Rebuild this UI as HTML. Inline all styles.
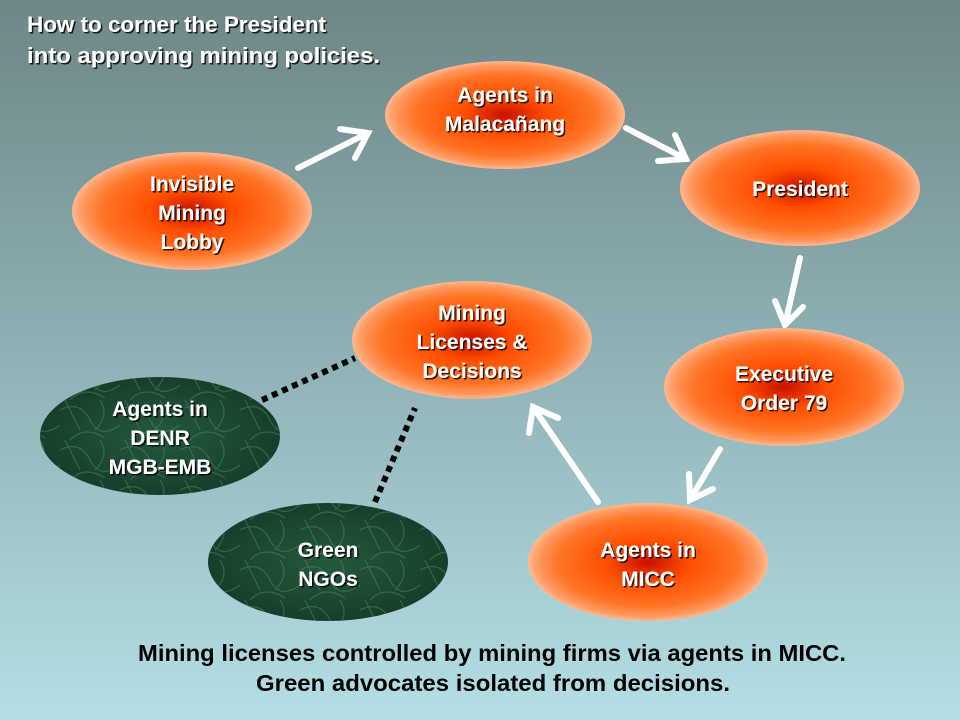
<!DOCTYPE html>
<html><head><meta charset="utf-8"><style>
html,body{margin:0;padding:0;width:960px;height:720px;overflow:hidden}
svg{display:block}
text{font-family:"Liberation Sans",Arial,sans-serif;font-weight:bold}
.w{fill:#fff;font-size:21px;text-anchor:middle}
</style></head><body>
<svg width="960" height="720" viewBox="0 0 960 720" xmlns="http://www.w3.org/2000/svg">
<defs>
<linearGradient id="bg" x1="0" y1="0" x2="0" y2="1">
<stop offset="0" stop-color="#6e8686"/>
<stop offset="0.5" stop-color="#8fb2b6"/>
<stop offset="1" stop-color="#b4dfe4"/>
</linearGradient>
<radialGradient id="og" cx="0.5" cy="0.5" r="0.5">
<stop offset="0" stop-color="#c81000"/>
<stop offset="0.35" stop-color="#ff4e00"/>
<stop offset="0.75" stop-color="#ff7426"/>
<stop offset="0.92" stop-color="#ff9a60"/>
<stop offset="1" stop-color="#ffb890"/>
</radialGradient>
<radialGradient id="gg" cx="0.5" cy="0.5" r="0.5">
<stop offset="0" stop-color="#235a3c"/>
<stop offset="1" stop-color="#173e2a"/>
</radialGradient>
<pattern id="marble" width="60" height="40" patternUnits="userSpaceOnUse">
<path d="M0 10 Q20 0 30 20 T60 25 M10 40 Q25 25 45 38 M5 0 L20 30 M40 0 Q50 15 35 30" stroke="#4e8a66" stroke-width="1.2" fill="none" opacity="0.5"/>
</pattern>
<filter id="sh"><feDropShadow dx="1.5" dy="1.5" stdDeviation="0" flood-color="#000" flood-opacity="0.8"/></filter>
</defs>
<rect width="960" height="720" fill="url(#bg)"/>

<g filter="url(#sh)">
<text x="27" y="32" fill="#fff" font-size="22" textLength="299" lengthAdjust="spacingAndGlyphs">How to corner the President</text>
<text x="27" y="63" fill="#fff" font-size="22" textLength="353" lengthAdjust="spacingAndGlyphs">into approving mining policies.</text>
</g>

<g stroke="#000" stroke-width="6" stroke-dasharray="6 5" fill="none">
<line x1="262" y1="400" x2="355" y2="358"/>
<line x1="375" y1="502" x2="415" y2="408"/>
</g>

<g stroke="#fff" stroke-width="6" fill="none" stroke-linecap="round" stroke-linejoin="miter">
<line x1="298" y1="168" x2="368" y2="133"/><polyline points="340,129 368,133 355,158"/>
<line x1="626" y1="128" x2="686" y2="159"/><polyline points="675,135 686,159 658,161"/>
<line x1="800" y1="258" x2="785" y2="325"/><polyline points="775,301 785,325 803,307"/>
<line x1="720" y1="449" x2="690" y2="500"/><polyline points="689,474 690,500 713,489"/>
<line x1="598" y1="502" x2="533" y2="407"/><polyline points="529,433 533,407 558,418"/>
</g>

<g fill="url(#og)">
<ellipse cx="505" cy="115" rx="120" ry="54"/>
<ellipse cx="800" cy="188" rx="120" ry="58"/>
<ellipse cx="192" cy="211" rx="120" ry="59"/>
<ellipse cx="472" cy="340" rx="120" ry="59"/>
<ellipse cx="784" cy="387" rx="120" ry="59"/>
<ellipse cx="648" cy="562" rx="120" ry="59"/>
</g>
<ellipse cx="160" cy="436" rx="120" ry="59" fill="url(#gg)"/>
<ellipse cx="160" cy="436" rx="120" ry="59" fill="url(#marble)"/>
<ellipse cx="328" cy="562" rx="120" ry="59" fill="url(#gg)"/>
<ellipse cx="328" cy="562" rx="120" ry="59" fill="url(#marble)"/>

<g class="w" filter="url(#sh)">
<text x="505" y="102">Agents in</text><text x="505" y="131">Malacañang</text>
<text x="800" y="196">President</text>
<text x="192" y="191">Invisible</text><text x="192" y="220">Mining</text><text x="192" y="249">Lobby</text>
<text x="472" y="320">Mining</text><text x="472" y="349">Licenses &amp;</text><text x="472" y="378">Decisions</text>
<text x="784" y="381">Executive</text><text x="784" y="410">Order 79</text>
<text x="648" y="557">Agents in</text><text x="648" y="586">MICC</text>
<text x="160" y="416">Agents in</text><text x="160" y="445">DENR</text><text x="160" y="474">MGB-EMB</text>
<text x="328" y="557">Green</text><text x="328" y="586">NGOs</text>
</g>

<text x="138" y="661" fill="#000" font-size="23" textLength="708" lengthAdjust="spacingAndGlyphs">Mining licenses controlled by mining firms via agents in MICC.</text>
<text x="256" y="691" fill="#000" font-size="23" textLength="474" lengthAdjust="spacingAndGlyphs">Green advocates isolated from decisions.</text>
</svg>
</body></html>
